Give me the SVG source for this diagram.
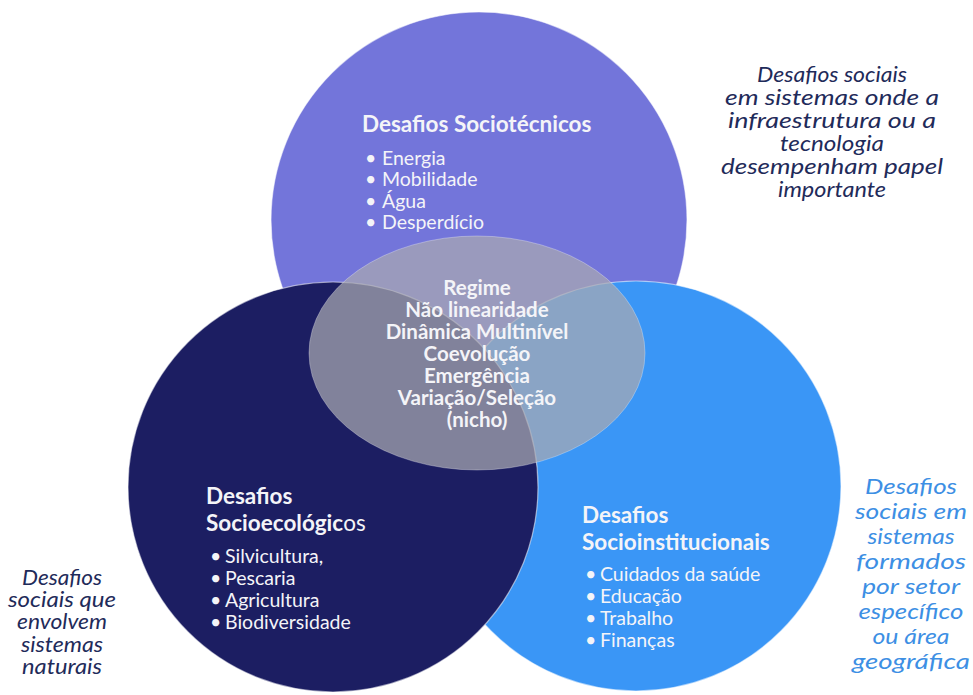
<svg xmlns="http://www.w3.org/2000/svg" width="973" height="695" viewBox="0 0 973 695">
<style>
.circ{stroke:#ffffff;stroke-opacity:0.55;stroke-width:1.2}
.t{font-family:Lato,"Open Sans","Liberation Sans",sans-serif;fill:#F4F4F8}
.title{font-weight:bold;font-size:22.5px}
.item{font-size:19.5px}
.center{font-weight:bold;font-size:20.5px;text-anchor:middle}
.note{font-family:Lato,"Open Sans","Liberation Sans",sans-serif;font-style:italic;text-anchor:middle}
.n1{font-size:21px}
.n2{font-size:21.5px}
.n3{font-size:20.5px}
.navy{fill:#1F2B5A}
.blue{fill:#3D8FE4}
</style>
<rect width="973" height="695" fill="#ffffff"/>
<g id="sociotecnicos">
<circle class="circ" cx="479" cy="220" r="208" fill="#7375DA"/>
</g>
<g id="socioinstitucionais">
<circle class="circ" cx="636" cy="486" r="205" fill="#3A96F6"/>
</g>
<g id="socioecologicos">
<circle class="circ" cx="333" cy="487" r="205" fill="#1C1E62"/>
</g>
<g id="regime">
<ellipse cx="477" cy="353" rx="168" ry="117" fill="#A9A9B2" fill-opacity="0.72" stroke="#ffffff" stroke-opacity="0.3" stroke-width="1"/>
<text class="t center" x="477" y="295">Regime</text>
<text class="t center" x="477" y="317">Não linearidade</text>
<text class="t center" x="477" y="339">Dinâmica Multinível</text>
<text class="t center" x="477" y="361">Coevolução</text>
<text class="t center" x="477" y="383">Emergência</text>
<text class="t center" x="477" y="405">Variação/Seleção</text>
<text class="t center" x="477" y="427">(nicho)</text>
</g>
<g id="sociotecnicos-text">
<text class="t title" x="362" y="132">Desafios Sociotécnicos</text>
<g class="t item">
<text x="365" y="165">•</text><text x="382" y="165">Energia</text>
<text x="365" y="186">•</text><text x="382" y="186">Mobilidade</text>
<text x="365" y="208">•</text><text x="382" y="208">Água</text>
<text x="365" y="229">•</text><text x="382" y="229">Desperdício</text>
</g>
</g>
<g id="socioecologicos-text">
<text class="t title" x="206" y="504">Desafios</text>
<text class="t title" x="206" y="531">Socioecológic<tspan font-weight="normal">os</tspan></text>
<g class="t item">
<text x="210" y="563">•</text><text x="225" y="563">Silvicultura,</text>
<text x="210" y="585">•</text><text x="225" y="585">Pescaria</text>
<text x="210" y="607">•</text><text x="225" y="607">Agricultura</text>
<text x="210" y="629">•</text><text x="225" y="629">Biodiversidade</text>
</g>
</g>
<g id="socioinstitucionais-text">
<text class="t title" x="582" y="523">Desafios</text>
<text class="t title" x="582" y="550">Socioinstitucionais</text>
<g class="t item">
<text x="585" y="581">•</text><text x="600" y="581">Cuidados da saúde</text>
<text x="585" y="603">•</text><text x="600" y="603">Educação</text>
<text x="585" y="625">•</text><text x="600" y="625">Trabalho</text>
<text x="585" y="647">•</text><text x="600" y="647">Finanças</text>
</g>
</g>
<g id="nota-sociotecnicos" class="note navy n1">
<text x="832" y="82" textLength="150" lengthAdjust="spacingAndGlyphs">Desafios sociais</text>
<text x="832" y="105" textLength="214" lengthAdjust="spacingAndGlyphs">em sistemas onde a</text>
<text x="832" y="128" textLength="208" lengthAdjust="spacingAndGlyphs">infraestrutura ou a</text>
<text x="832" y="151" textLength="104" lengthAdjust="spacingAndGlyphs">tecnologia</text>
<text x="832" y="174" textLength="222" lengthAdjust="spacingAndGlyphs">desempenham papel</text>
<text x="832" y="197" textLength="108" lengthAdjust="spacingAndGlyphs">importante</text>
</g>
<g id="nota-socioecologicos" class="note navy n3">
<text x="62" y="585" textLength="80" lengthAdjust="spacingAndGlyphs">Desafios</text>
<text x="62" y="607" textLength="108" lengthAdjust="spacingAndGlyphs">sociais que</text>
<text x="62" y="629" textLength="90" lengthAdjust="spacingAndGlyphs">envolvem</text>
<text x="62" y="652" textLength="82" lengthAdjust="spacingAndGlyphs">sistemas</text>
<text x="62" y="674" textLength="80" lengthAdjust="spacingAndGlyphs">naturais</text>
</g>
<g id="nota-socioinstitucionais" class="note blue n2">
<text x="911" y="494" textLength="92" lengthAdjust="spacingAndGlyphs">Desafios</text>
<text x="911" y="519" textLength="112" lengthAdjust="spacingAndGlyphs">sociais em</text>
<text x="911" y="544" textLength="87" lengthAdjust="spacingAndGlyphs">sistemas</text>
<text x="911" y="569" textLength="110" lengthAdjust="spacingAndGlyphs">formados</text>
<text x="911" y="594" textLength="98" lengthAdjust="spacingAndGlyphs">por setor</text>
<text x="911" y="619" textLength="105" lengthAdjust="spacingAndGlyphs">específico</text>
<text x="911" y="644" textLength="77" lengthAdjust="spacingAndGlyphs">ou área</text>
<text x="911" y="669" textLength="118" lengthAdjust="spacingAndGlyphs">geográfica</text>
</g>
<g id="connectors"></g>
</svg>
